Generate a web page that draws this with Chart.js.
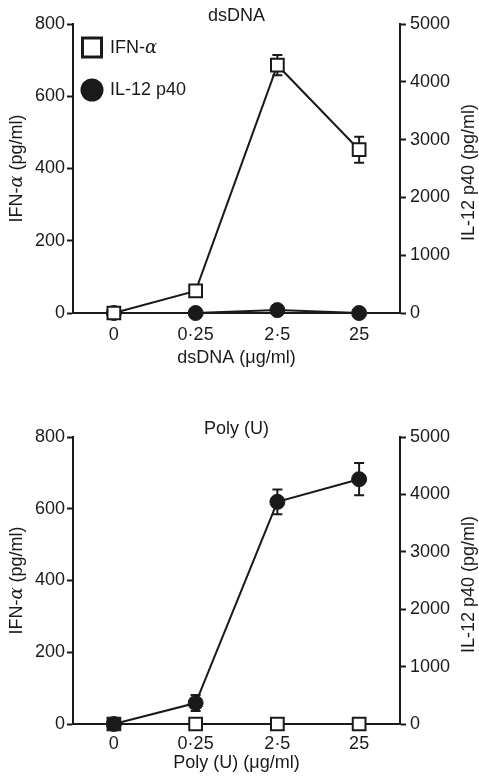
<!DOCTYPE html>
<html>
  <head>
    <script src="https://cdn.jsdelivr.net/npm/chart.js@4.4.1/dist/chart.umd.min.js"></script>
    <style>
      body { margin: 0; background: #fff; }
      canvas { display: block; }
    </style>
  </head>

  <body>
    <canvas id="dsdna" width="479" height="390"></canvas>
    <canvas id="polyu" width="479" height="388"></canvas>
    <script>
      const doses = ['0', '0·25', '2·5', '25'];
      const seriesNames = ['IFN-α', 'IL-12 p40'];

      const dsdnaIfn = [0, 61, 686, 452];
      const dsdnaIfnErr = [0, 0, 28, 36];
      const dsdnaIl12 = [0, 0, 50, 0];
      const dsdnaIl12Err = [0, 0, 0, 0];

      const polyIfn = [0, 0, 0, 0];
      const polyIfnErr = [0, 0, 0, 0];
      const polyIl12 = [0, 365, 3870, 4265];
      const polyIl12Err = [0, 140, 215, 280];

      const ifnTicks = [0, 200, 400, 600, 800];
      const il12Ticks = [0, 1000, 2000, 3000, 4000, 5000];

      const FONT = '"Liberation Sans", Arial, Helvetica, sans-serif';
      const INK = '#1a1a1a';
      const FS = 18;

      // draws "IFN-" with an italic alpha, then the rest
      function ifnText(ctx, x, y, align, rest) {
        const a = 'IFN-', b = 'α';
        ctx.font = FS + 'px ' + FONT;
        const wa = ctx.measureText(a).width;
        const wr = ctx.measureText(rest).width;
        ctx.font = 'italic ' + FS + 'px "DejaVu Serif", serif';
        const wb = ctx.measureText(b).width;
        let sx = x;
        if (align === 'center') sx = x - (wa + wb + wr) / 2;
        ctx.textAlign = 'left';
        ctx.font = FS + 'px ' + FONT;
        ctx.fillText(a, sx, y);
        ctx.font = 'italic ' + FS + 'px "DejaVu Serif", serif';
        ctx.fillText(b, sx + wa, y);
        ctx.font = FS + 'px ' + FONT;
        ctx.fillText(rest, sx + wa + wb, y);
      }

      const errorBars = {
        id: 'errorBars',
        beforeDatasetsDraw(chart) {
          const ctx = chart.ctx;
          ctx.save();
          ctx.strokeStyle = INK;
          ctx.lineWidth = 2;
          chart.data.datasets.forEach((ds, i) => {
            const meta = chart.getDatasetMeta(i);
            const ys = chart.scales[ds.yAxisID];
            meta.data.forEach((pt, j) => {
              const e = ds.err[j];
              if (!e) return;
              const top = ys.getPixelForValue(ds.data[j] + e);
              const bot = ys.getPixelForValue(ds.data[j] - e);
              ctx.beginPath();
              ctx.moveTo(pt.x, top); ctx.lineTo(pt.x, bot);
              ctx.moveTo(pt.x - 5, top); ctx.lineTo(pt.x + 5, top);
              ctx.moveTo(pt.x - 5, bot); ctx.lineTo(pt.x + 5, bot);
              ctx.stroke();
            });
          });
          ctx.restore();
        }
      };

      const labels = {
        id: 'labels',
        afterDraw(chart, args, opts) {
          const ctx = chart.ctx;
          const a = chart.chartArea;
          const cx = (a.left + a.right) / 2;
          const cy = (a.top + a.bottom) / 2;
          ctx.save();
          ctx.fillStyle = INK;
          ctx.textBaseline = 'middle';
          ctx.font = FS + 'px ' + FONT;
          ctx.textAlign = 'center';
          ctx.fillText(opts.title, cx, opts.titleY);
          ctx.fillText(opts.xTitle, cx, opts.xTitleY);

          // left axis title
          ctx.save();
          ctx.translate(17, cy);
          ctx.rotate(-Math.PI / 2);
          ifnText(ctx, 0, 0, 'center', ' (pg/ml)');
          ctx.restore();

          // right axis title, reads bottom to top
          ctx.save();
          ctx.translate(469, cy + 4);
          ctx.rotate(-Math.PI / 2);
          ctx.textAlign = 'center';
          ctx.font = FS + 'px ' + FONT;
          ctx.fillText(seriesNames[1] + ' (pg/ml)', 0, 0);
          ctx.restore();

          if (opts.legend) {
            ctx.strokeStyle = INK;
            ctx.lineWidth = 3;
            ctx.fillStyle = '#fff';
            ctx.fillRect(82.5, 38, 19, 19);
            ctx.strokeRect(82.5, 38, 19, 19);
            ctx.fillStyle = INK;
            ctx.beginPath();
            ctx.arc(92, 90, 11.5, 0, Math.PI * 2);
            ctx.fill();
            ifnText(ctx, 110, 48, 'left', '');
            ctx.font = FS + 'px ' + FONT;
            ctx.textAlign = 'left';
            ctx.fillText(seriesNames[1], 110, 90);
          }
          ctx.restore();
        }
      };

      function makeChart(id, o) {
        const h = document.getElementById(id).height;
        const tickFont = { family: FONT, size: FS };
        return new Chart(document.getElementById(id), {
          type: 'line',
          data: {
            labels: doses,
            datasets: [
              {
                label: seriesNames[0],
                data: o.ifn,
                err: o.ifnErr,
                yAxisID: 'y',
                order: o.ifnOrder,
                borderColor: INK,
                borderWidth: 2,
                pointStyle: 'rect',
                pointRadius: 9,
                pointBorderWidth: 2,
                pointBackgroundColor: '#fff',
                pointBorderColor: INK,
                clip: false,
              },
              {
                label: seriesNames[1],
                data: o.il12,
                err: o.il12Err,
                yAxisID: 'y1',
                order: o.il12Order,
                borderColor: INK,
                borderWidth: 2,
                pointStyle: 'circle',
                pointRadius: 7.5,
                pointBorderWidth: 1,
                pointBackgroundColor: INK,
                pointBorderColor: INK,
                clip: false,
              },
            ],
          },
          options: {
            responsive: false,
            animation: false,
            layout: { padding: { top: o.top, left: 0, right: 0, bottom: 0 } },
            plugins: {
              legend: { display: false },
              tooltip: { enabled: false },
              labels: o.text,
            },
            scales: {
              x: {
                offset: true,
                grid: { display: false, drawTicks: false },
                border: { display: true, color: INK, width: 2 },
                ticks: { color: INK, padding: o.tickPad, font: tickFont },
                afterFit: (s) => { s.height = h - o.bottom; },
              },
              y: {
                position: 'left',
                min: 0,
                max: 800,
                afterBuildTicks: (s) => { s.ticks = ifnTicks.map((v) => ({ value: v })); },
                grid: { drawOnChartArea: false, tickLength: 6, tickWidth: 2, tickColor: INK },
                border: { display: true, color: INK, width: 2 },
                ticks: { color: INK, padding: 2, font: tickFont, callback: (v) => String(v) },
                afterFit: (s) => { s.width = 73; },
              },
              y1: {
                position: 'right',
                min: 0,
                max: 5000,
                afterBuildTicks: (s) => { s.ticks = il12Ticks.map((v) => ({ value: v })); },
                grid: { drawOnChartArea: false, tickLength: 6, tickWidth: 2, tickColor: INK },
                border: { display: true, color: INK, width: 2 },
                ticks: { color: INK, padding: 4, font: tickFont, callback: (v) => String(v) },
                afterFit: (s) => { s.width = 79; },
              },
            },
          },
          plugins: [errorBars, labels],
        });
      }

      makeChart('dsdna', {
        ifn: dsdnaIfn, ifnErr: dsdnaIfnErr, il12: dsdnaIl12, il12Err: dsdnaIl12Err,
        ifnOrder: 0, il12Order: 1, top: 24, bottom: 313, tickPad: 11,
        text: { title: 'dsDNA', titleY: 16, xTitle: 'dsDNA (μg/ml)', xTitleY: 358, legend: true },
      });

      makeChart('polyu', {
        ifn: polyIfn, ifnErr: polyIfnErr, il12: polyIl12, il12Err: polyIl12Err,
        ifnOrder: 1, il12Order: 0, top: 47, bottom: 334, tickPad: 9,
        text: { title: 'Poly (U)', titleY: 39, xTitle: 'Poly (U) (μg/ml)', xTitleY: 373, legend: false },
      });
    </script>
  </body>
</html>
